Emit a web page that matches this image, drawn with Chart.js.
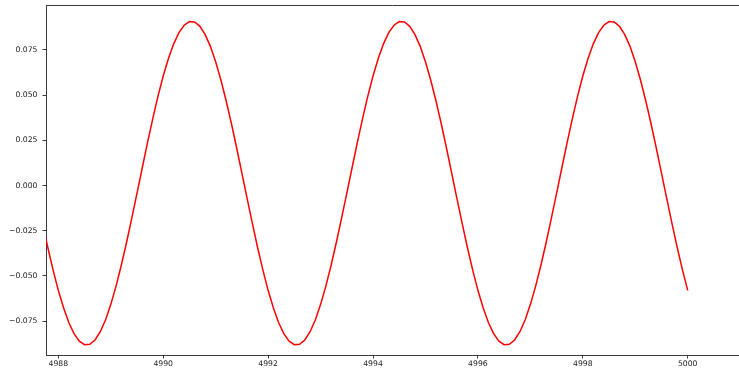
<!DOCTYPE html>
<html>
<head>
<meta charset="utf-8">
<script src="https://cdn.jsdelivr.net/npm/chart.js@4/dist/chart.umd.min.js"></script>
<style>
  html, body { margin: 0; padding: 0; background: #fff; overflow: hidden; }
  canvas { display: block; }
</style>
</head>
<body>
<canvas id="c" width="739" height="369"></canvas>
<script>
// Sample times (step 0.1)
const times = [
  4987.7, 4987.8, 4987.9, 4988.0, 4988.1, 4988.2, 4988.3, 4988.4, 4988.5, 4988.6,
  4988.7, 4988.8, 4988.9, 4989.0, 4989.1, 4989.2, 4989.3, 4989.4, 4989.5, 4989.6,
  4989.7, 4989.8, 4989.9, 4990.0, 4990.1, 4990.2, 4990.3, 4990.4, 4990.5, 4990.6,
  4990.7, 4990.8, 4990.9, 4991.0, 4991.1, 4991.2, 4991.3, 4991.4, 4991.5, 4991.6,
  4991.7, 4991.8, 4991.9, 4992.0, 4992.1, 4992.2, 4992.3, 4992.4, 4992.5, 4992.6,
  4992.7, 4992.8, 4992.9, 4993.0, 4993.1, 4993.2, 4993.3, 4993.4, 4993.5, 4993.6,
  4993.7, 4993.8, 4993.9, 4994.0, 4994.1, 4994.2, 4994.3, 4994.4, 4994.5, 4994.6,
  4994.7, 4994.8, 4994.9, 4995.0, 4995.1, 4995.2, 4995.3, 4995.4, 4995.5, 4995.6,
  4995.7, 4995.8, 4995.9, 4996.0, 4996.1, 4996.2, 4996.3, 4996.4, 4996.5, 4996.6,
  4996.7, 4996.8, 4996.9, 4997.0, 4997.1, 4997.2, 4997.3, 4997.4, 4997.5, 4997.6,
  4997.7, 4997.8, 4997.9, 4998.0, 4998.1, 4998.2, 4998.3, 4998.4, 4998.5, 4998.6,
  4998.7, 4998.8, 4998.9, 4999.0, 4999.1, 4999.2, 4999.3, 4999.4, 4999.5, 4999.6,
  4999.7, 4999.8, 4999.9, 5000.0
];

// Signal value at each sample time
const signal = [
  -0.0210, -0.0343, -0.0467, -0.0580, -0.0677, -0.0758, -0.0820, -0.0861, -0.0881, -0.0879,
  -0.0855, -0.0809, -0.0744, -0.0659, -0.0558, -0.0443, -0.0317, -0.0182, -0.0043, 0.0097,
  0.0236, 0.0369, 0.0493, 0.0606, 0.0703, 0.0784, 0.0846, 0.0887, 0.0907, 0.0905,
  0.0881, 0.0835, 0.0770, 0.0685, 0.0584, 0.0469, 0.0343, 0.0209, 0.0069, -0.0071,
  -0.0210, -0.0343, -0.0467, -0.0580, -0.0677, -0.0758, -0.0820, -0.0861, -0.0881, -0.0879,
  -0.0855, -0.0809, -0.0744, -0.0659, -0.0558, -0.0443, -0.0317, -0.0182, -0.0043, 0.0097,
  0.0236, 0.0369, 0.0493, 0.0606, 0.0703, 0.0784, 0.0846, 0.0887, 0.0907, 0.0905,
  0.0881, 0.0835, 0.0770, 0.0685, 0.0584, 0.0469, 0.0343, 0.0209, 0.0069, -0.0071,
  -0.0210, -0.0343, -0.0467, -0.0580, -0.0677, -0.0758, -0.0820, -0.0861, -0.0881, -0.0879,
  -0.0855, -0.0809, -0.0744, -0.0659, -0.0558, -0.0443, -0.0317, -0.0182, -0.0043, 0.0097,
  0.0236, 0.0369, 0.0493, 0.0606, 0.0703, 0.0784, 0.0846, 0.0887, 0.0907, 0.0905,
  0.0881, 0.0835, 0.0770, 0.0685, 0.0584, 0.0469, 0.0343, 0.0209, 0.0069, -0.0071,
  -0.0210, -0.0343, -0.0467, -0.0580
];

// Axis tick positions
const xTicks = [4988, 4990, 4992, 4994, 4996, 4998, 5000];
const yTicks = [-0.075, -0.050, -0.025, 0.000, 0.025, 0.050, 0.075];

// Visible window
const xRange = [4987.7655, 5000.978];
const yRange = [-0.0938, 0.0999];

const points = times.map((t, i) => ({ x: t, y: signal[i] }));

const FONT = { family: "'DejaVu Sans', sans-serif", size: 7.7 };
const AXIS_COLOR = '#3a3a3a';

// Top frame line of the plot area
const topFrame = {
  id: 'topFrame',
  afterDraw(chart) {
    const { ctx, chartArea } = chart;
    ctx.save();
    ctx.strokeStyle = AXIS_COLOR;
    ctx.lineWidth = 1;
    ctx.beginPath();
    ctx.moveTo(chartArea.left, chartArea.top + 0.5);
    ctx.lineTo(chartArea.right, chartArea.top + 0.5);
    ctx.stroke();
    ctx.restore();
  }
};

function fmtY(v) {
  const s = Math.abs(v).toFixed(3);
  return (v < -1e-9 ? '\u2212' : '') + s;
}

new Chart(document.getElementById('c'), {
  type: 'line',
  data: {
    datasets: [{
      data: points,
      borderColor: '#ff0000',
      borderWidth: 1.5,
      pointRadius: 0,
      tension: 0,
      fill: false
    }]
  },
  options: {
    responsive: false,
    devicePixelRatio: 1,
    animation: false,
    parsing: false,
    layout: { padding: { top: 5, right: 0, left: 0, bottom: 0 } },
    plugins: { legend: { display: false }, tooltip: { enabled: false } },
    scales: {
      x: {
        type: 'linear',
        min: xRange[0],
        max: xRange[1],
        afterFit(scale) {
          scale.height = 14;
          scale.paddingLeft = 0; scale.paddingRight = 0;
        },
        afterBuildTicks(scale) { scale.ticks = xTicks.map(v => ({ value: v })); },
        grid: { drawOnChartArea: false, tickLength: 3.5, color: AXIS_COLOR, tickWidth: 1 },
        border: { color: AXIS_COLOR, width: 1 },
        ticks: {
          font: FONT, color: '#222', padding: 1, maxRotation: 0, autoSkip: false,
          callback: v => String(v)
        }
      },
      y: {
        type: 'linear',
        min: yRange[0],
        max: yRange[1],
        afterFit(scale) {
          scale.width = 46;
          scale.paddingTop = 0; scale.paddingBottom = 0;
        },
        afterBuildTicks(scale) { scale.ticks = yTicks.map(v => ({ value: v })); },
        grid: { drawOnChartArea: false, tickLength: 3.5, color: AXIS_COLOR, tickWidth: 1 },
        border: { color: AXIS_COLOR, width: 1 },
        ticks: {
          font: FONT, color: '#222', padding: 5, autoSkip: false,
          callback: v => fmtY(v)
        }
      }
    }
  },
  plugins: [topFrame]
});
</script>
</body>
</html>
